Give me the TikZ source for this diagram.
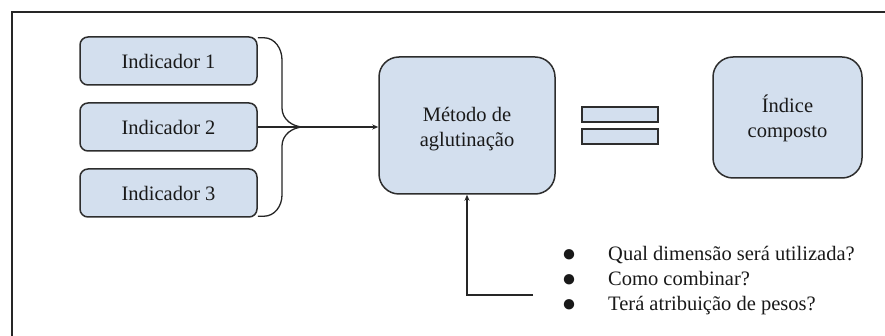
\documentclass[tikz,border=0pt]{standalone}
\usepackage{fontspec}
\setmainfont{Liberation Serif}
\newfontfamily\bulletfont{Liberation Sans}
\usetikzlibrary{arrows.meta}
\definecolor{boxfill}{RGB}{211,223,238}
\definecolor{boxline}{RGB}{45,45,45}
\begin{document}
\begin{tikzpicture}[x=1pt,y=-1pt,
  every node/.style={font=\fontsize{20.5}{24.5}\selectfont, text=black!90},
  panel/.style={draw=boxline, line width=1.5pt, fill=boxfill, inner sep=0pt},
  indbox/.style={panel, rounded corners=8pt, minimum width=177pt, minimum height=48pt},
  bigbox/.style={panel, rounded corners=20pt, align=center},
  eqbar/.style={panel, minimum width=76pt, minimum height=15pt},
  conn/.style={draw=black!85, line width=1.3pt},
  arr/.style={conn, -{Stealth[length=6pt,width=5pt]}},
  item/.style={anchor=base west, inner sep=0pt},
  dot/.style={anchor=base, inner sep=0pt, text height=1.2ex, text depth=0pt, font=\bulletfont\fontsize{24}{26}\selectfont}
]
\useasboundingbox (0,0) rectangle (885,336);
\fill[white] (0,0) rectangle (885,336);

% frame
\draw[line width=2pt, black!85] (11.5,345) -- (11.5,12) -- (895,12);

% indicators
\node[indbox] (i1) at (168.5,61) {Indicador 1};
\node[indbox] (i2) at (168.5,127) {Indicador 2};
\node[indbox] (i3) at (168.5,193) {Indicador 3};

% aggregation method and composite index
\node[bigbox, minimum width=176pt, minimum height=137pt] (m) at (467,125.5) {};
\node[align=center, inner sep=0pt] (mt) at ([yshift=-3.5pt]m.center) {Método de\\aglutinação};
\node[bigbox, minimum width=149pt, minimum height=121pt] (idx) at (787.5,117.5) {};
\node[align=center, inner sep=0pt] (it) at ([yshift=-1pt]idx.center) {Índice\\composto};

% equals sign
\node[eqbar] (e1) at (620,114.5) {};
\node[eqbar] (e2) at (620,136.5) {};

% brace joining the indicators
\coordinate (j) at ([xshift=46pt]i2.east);
\draw[conn] ([yshift=-1.5pt]i1.north east) -- ++(6,0) to[out=0,in=90] (282,60) -- (282,108) to[out=-90,in=180] (j);
\draw[conn] ([yshift=1.5pt]i3.south east) -- ++(6,0) to[out=0,in=-90] (282,195) -- (282,146) to[out=90,in=180] (j);
\draw[arr] (i2.east) -- (i2.east -| m.west);

% questions feeding the method
\coordinate (q) at (533,295);
\draw[arr] (q) -| (m.south);

\node[dot] (b1) at (569,262) {●};
\node[dot] (b2) at (569,287) {●};
\node[dot] (b3) at (569,312) {●};
\node[item] (t1) at (608,261) {Qual dimensão será utilizada?};
\node[item] (t2) at (608,285.5) {Como combinar?};
\node[item] (t3) at (608,310) {Terá atribuição de pesos?};
\end{tikzpicture}
\end{document}
